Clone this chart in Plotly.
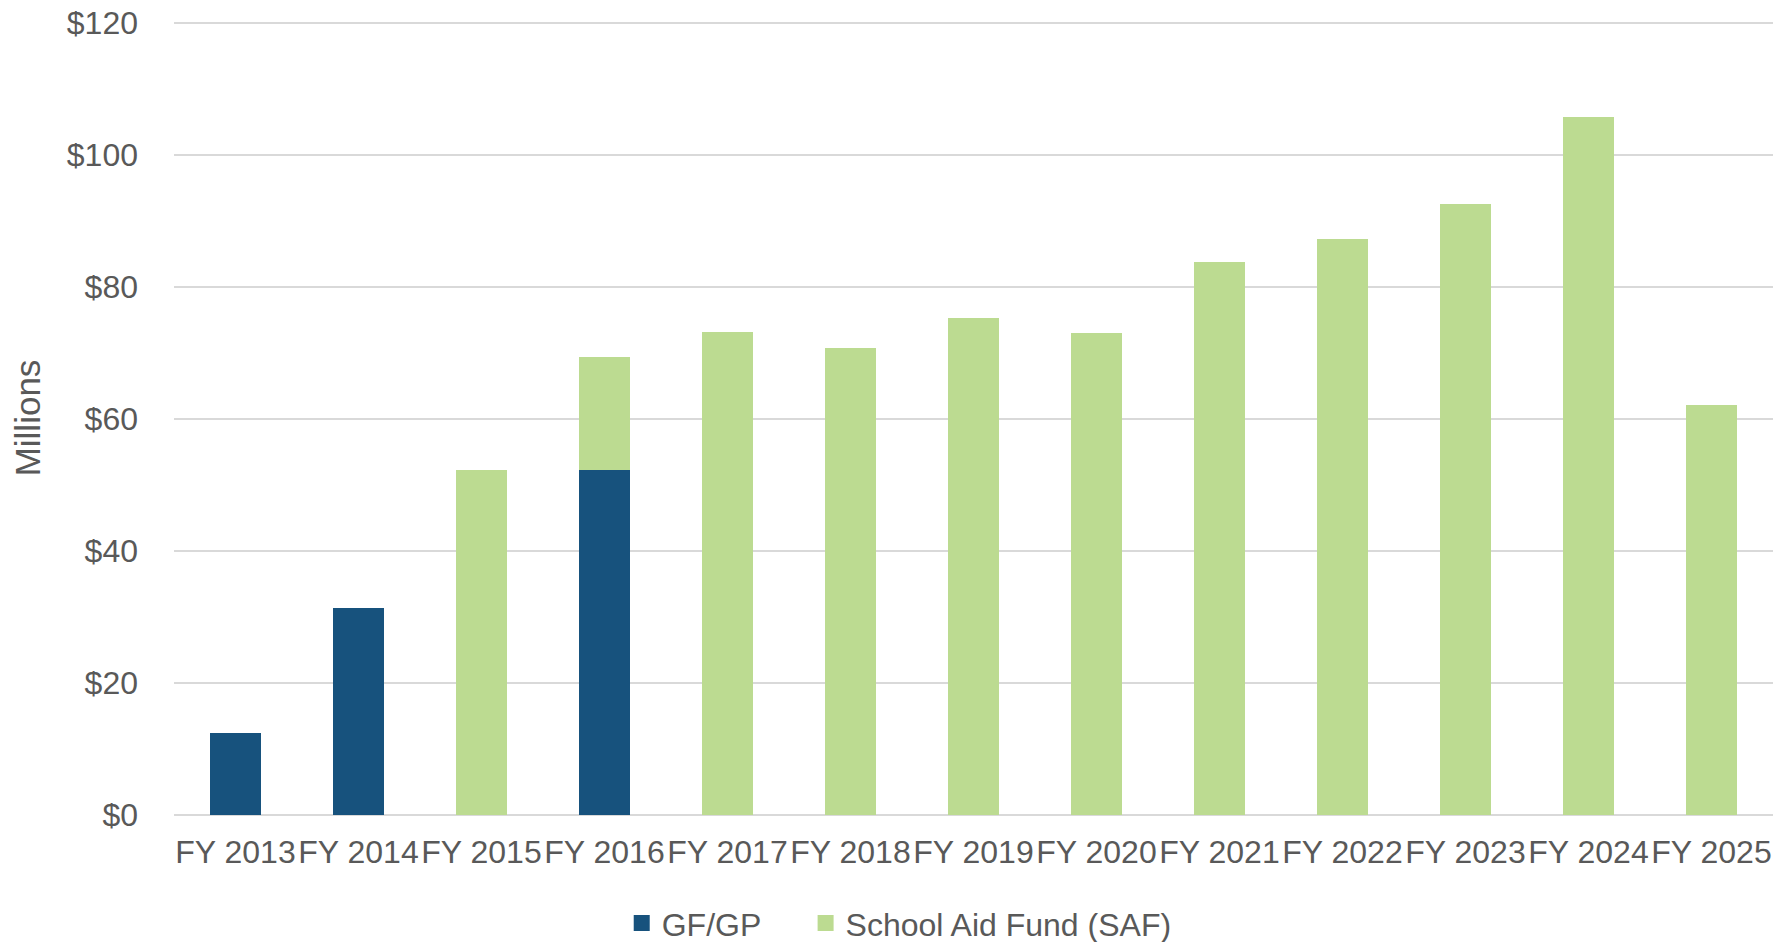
import plotly.graph_objects as go

categories = ["FY 2013", "FY 2014", "FY 2015", "FY 2016", "FY 2017", "FY 2018", "FY 2019",
              "FY 2020", "FY 2021", "FY 2022", "FY 2023", "FY 2024", "FY 2025"]
gfgp = [12.4, 31.3, None, 52.3, None, None, None, None, None, None, None, None, None]
saf = [None, None, 52.3, 17.1, 73.2, 70.8, 75.3, 73.1, 83.8, 87.2, 92.5, 105.7, 62.1]
ytick_vals = [0, 20, 40, 60, 80, 100, 120]
ytick_text = ["$0", "$20", "$40", "$60", "$80", "$100", "$120"]

FONT = "Liberation Sans, Arial, sans-serif"
GRAY = "#595959"
C_GF = "#17527D"
C_SAF = "#BCDB91"

fig = go.Figure()
fig.add_trace(go.Bar(x=categories, y=gfgp, name="GF/GP", showlegend=False,
                     marker=dict(color=C_GF, line=dict(width=0))))
fig.add_trace(go.Bar(x=categories, y=saf, name="School Aid Fund (SAF)", showlegend=False,
                     marker=dict(color=C_SAF, line=dict(width=0))))
# legend entries (square swatches)
fig.add_trace(go.Scatter(x=[None], y=[None], mode="markers", name="GF/GP", legend="legend",
                         marker=dict(symbol="square", size=24, color=C_GF), hoverinfo="skip"))
fig.add_trace(go.Scatter(x=[None], y=[None], mode="markers", name="School Aid Fund (SAF)",
                         legend="legend2",
                         marker=dict(symbol="square", size=24, color=C_SAF), hoverinfo="skip"))

leg_common = dict(orientation="h", xanchor="left", y=-0.1364, yanchor="middle",
                  font=dict(size=32, color=GRAY), itemwidth=30, bgcolor="rgba(0,0,0,0)")

fig.update_layout(
    width=1791, height=942,
    barmode="stack", bargap=0.59,
    plot_bgcolor="white", paper_bgcolor="white",
    margin=dict(l=174, r=18, t=21, b=127, autoexpand=False),
    font=dict(family=FONT, size=32, color=GRAY),
    showlegend=True,
    legend=dict(x=0.280, **leg_common),
    legend2=dict(x=0.395, **leg_common),
    xaxis=dict(type="category", showgrid=False, showline=False, ticks="", ticklabelstandoff=15,
               tickfont=dict(size=32, color=GRAY)),
    yaxis=dict(range=[0, 120.3], tickvals=ytick_vals, ticktext=ytick_text,
               showgrid=True, gridcolor="#D9D9D9", gridwidth=2,
               zeroline=True, zerolinecolor="#D9D9D9", zerolinewidth=2,
               showline=False, ticks="", ticklabelstandoff=35, ticklabeloverflow="allow",
               tickfont=dict(size=32, color=GRAY),
               title=dict(text="Millions", font=dict(size=35, color=GRAY), standoff=15)),
)

fig.write_html("out.html", config={"displayModeBar": False},
               post_script="document.body.style.margin='0';document.body.style.overflow='hidden';")
